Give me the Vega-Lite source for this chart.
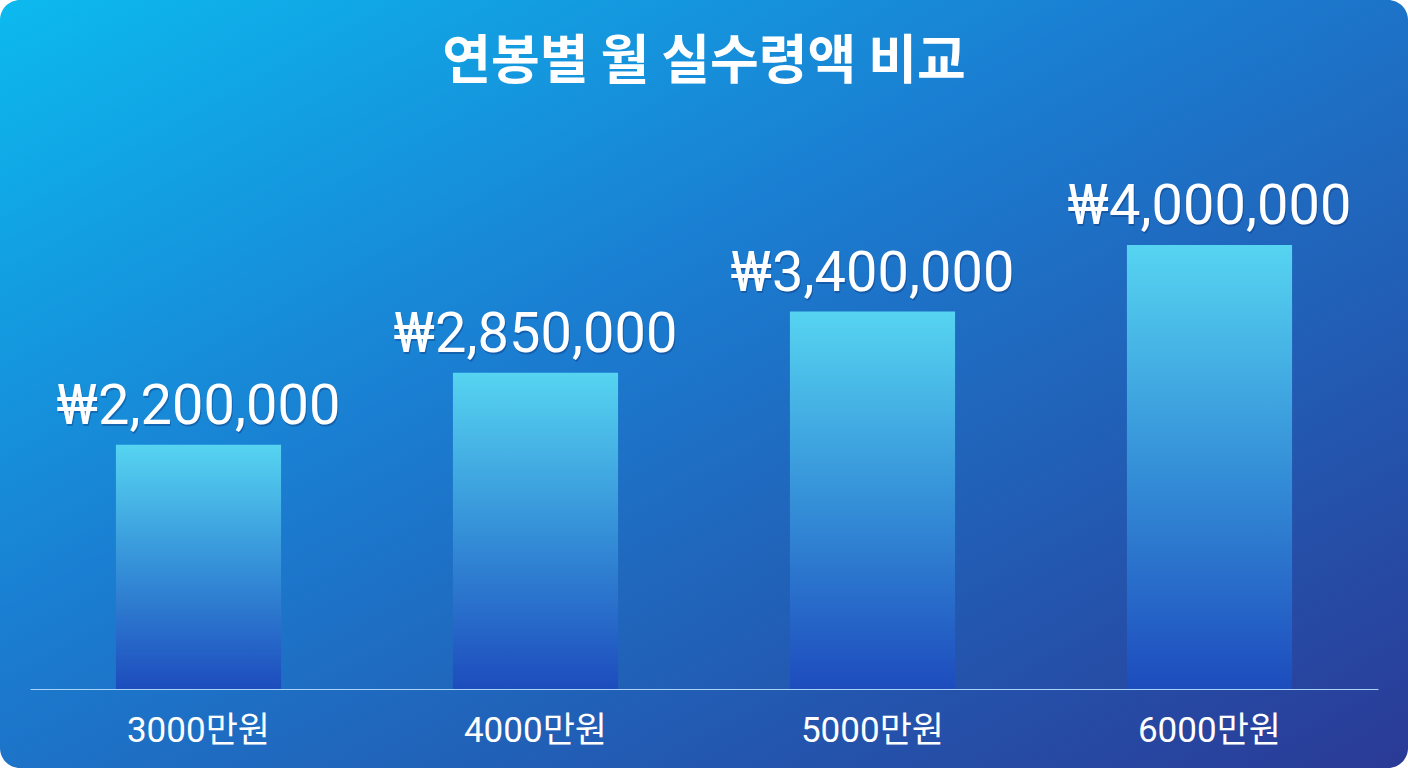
{
  "$schema": "https://vega.github.io/schema/vega-lite/v6.json",
  "width": 1408,
  "height": 768,
  "autosize": {"type": "none"},
  "padding": 0,
  "background": "white",
  "title": {
    "text": "연봉별 월 실수령액 비교",
    "font": "Noto Sans CJK KR",
    "fontSize": 53,
    "fontWeight": "bold",
    "color": "white",
    "anchor": "middle",
    "frame": "group",
    "baseline": "alphabetic",
    "offset": -132
  },
  "data": {
    "values": [
      {"salary": "3000만원", "net": 2200000},
      {"salary": "4000만원", "net": 2850000},
      {"salary": "5000만원", "net": 3400000},
      {"salary": "6000만원", "net": 4000000}
    ]
  },
  "encoding": {
    "x": {
      "field": "salary",
      "type": "nominal",
      "sort": null,
      "title": null,
      "scale": {"range": [30, 1378], "paddingInner": 0.51, "paddingOuter": 0.255},
      "axis": {
        "orient": "bottom",
        "offset": -79,
        "domainColor": "#a9d4f5",
        "domainWidth": 1.2,
        "ticks": false,
        "labelAngle": 0,
        "labelPadding": 24,
        "labelFont": "Roboto, Noto Sans CJK KR",
        "labelFontSize": 35,
        "labelColor": "white",
        "grid": false
      }
    },
    "y": {
      "field": "net",
      "type": "quantitative",
      "scale": {"domain": [0, 5000000], "range": [689, 134]},
      "axis": null
    }
  },
  "layer": [
    {
      "mark": {
        "type": "bar",
        "fill": {
          "x1": 0, "y1": 0, "x2": 0, "y2": 1,
          "gradient": "linear",
          "stops": [
            {"offset": 0, "color": "#56d4f1"},
            {"offset": 0.5, "color": "#3590d8"},
            {"offset": 1, "color": "#1d4cbd"}
          ]
        }
      }
    },
    {
      "mark": {
        "type": "text",
        "baseline": "alphabetic",
        "dy": -19,
        "dx": 1,
        "font": "Roboto, Noto Sans CJK KR",
        "fontSize": 56,
        "color": "#0b2a6e",
        "opacity": 0.35
      },
      "encoding": {"text": {"field": "net", "type": "quantitative", "format": "$,d"}}
    },
    {
      "mark": {
        "type": "text",
        "baseline": "alphabetic",
        "dy": -21,
        "font": "Roboto, Noto Sans CJK KR",
        "fontSize": 56,
        "color": "white"
      },
      "encoding": {"text": {"field": "net", "type": "quantitative", "format": "$,d"}}
    }
  ],
  "config": {
    "locale": {
      "number": {"decimal": ".", "thousands": ",", "grouping": [3], "currency": ["₩", ""]}
    },
    "view": {
      "stroke": null,
      "cornerRadius": 20,
      "fill": {
        "x1": 0, "y1": 0, "x2": 1, "y2": 1,
        "gradient": "linear",
        "stops": [
          {"offset": 0, "color": "#0cbaef"},
          {"offset": 0.4, "color": "#1a7fd2"},
          {"offset": 1, "color": "#2a3a96"}
        ]
      }
    }
  }
}
